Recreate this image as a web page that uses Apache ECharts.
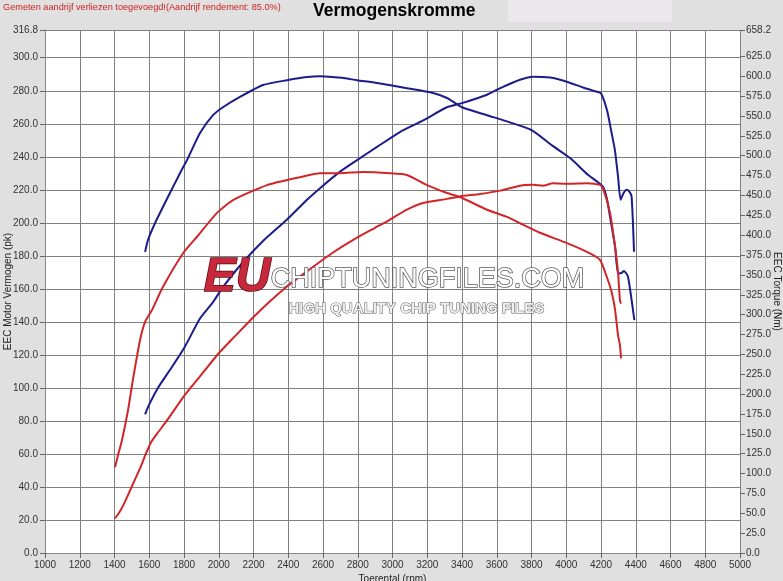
<!DOCTYPE html>
<html>
<head>
<meta charset="utf-8">
<script src="https://cdn.jsdelivr.net/npm/echarts@6/dist/echarts.min.js"></script>
<style>
html,body{margin:0;padding:0;background:#e0e0e0;}
#chart{width:783px;height:581px;}
</style>
</head>
<body>
<div id="chart"></div>
<script>
// ---- data ----
// Tuned power (pk, left axis) - blue
var bluePowerRpm = [1576,1600,1650,1720,1800,1892,1967,2024,2122,2255,2393,2508,2583,2698,2796,2911,3043,3176,3313,3400,3544,3636,3734,3809,3906,4004,4096,4177,4200,4235,4260,4280,4298,4313,4330,4347,4362,4376,4390];
var bluePower    = [84,90,100,111,124,142,152,161,174,189,202,214,221,231,238,246,255,262,270,272.5,277.6,282.4,286.7,288.5,288,285.5,282,279.4,278.5,268,255,244,228,214,218,220,219,216,182.5];
// Tuned torque (Nm, right axis) - blue
var blueTorqueRpm = [1576,1593,1633,1719,1777,1823,1892,1967,2024,2122,2255,2393,2508,2583,2709,2796,2911,3083,3233,3314,3400,3544,3676,3803,3918,4022,4125,4211,4235,4252,4281,4298,4315,4332,4355,4384,4392];
var blueTorque    = [379,394,415,453,478,497,528.6,551,561,574,589,595,599,600,598,595,591.5,585,579,572.6,561,551,542,532,513,497,476,461,445,423,385.5,352,352,355,348,306,293];
// Stock power (pk, left axis) - red
var redPowerRpm = [1403,1430,1460,1490,1520,1550,1580,1610,1650,1700,1800,1900,2000,2100,2200,2300,2400,2500,2658,2796,2900,2986,3083,3176,3314,3388,3504,3619,3734,3809,3866,3924,4004,4119,4194,4211,4252,4281,4298,4309,4315];
var redPower    = [21,25,31,38,45,52,60,67,73,80,95,108,121,132,143,153,162,170,182,191,197,202,208,212,214.5,216,217.5,219.5,222.5,223,222.5,224,223.6,224,223,221,206,185.5,170,153,151];
// Stock torque (Nm, right axis) - red
var redTorqueRpm = [1403,1420,1443,1478,1506,1547,1576,1616,1679,1794,1875,1990,2082,2278,2468,2583,2698,2830,2986,3083,3199,3314,3388,3544,3659,3734,3849,4004,4119,4194,4234,4263,4281,4298,4309,4315];
var redTorque    = [108,123,142,180,218,268,291,306,335,377,398,428,444,463,473,478,478,479.5,478,475.7,463,453,448,432,423,415,403,390,379,369,347,327,306,274,262,245];
// axis tick labels
var rightTickValues = [0,25,50,75,100,125,150,175,200,225,250,275,300,325,350,375,400,425,450,475,500,525,550,575,600,625,658.2];
var leftMax = 316.8, rightMax = 658.2;

function pairs(xs, ys){ return xs.map(function(x,i){ return [x, ys[i]]; }); }

var chart = echarts.init(document.getElementById('chart'), null, {renderer:'canvas'});
var FONT = 'Liberation Sans, Arial, sans-serif';
var blue = '#1c1c8a', red = '#d0262a';

var option = {
  backgroundColor: '#e0e0e0',
  animation: false,
  textStyle: {fontFamily: FONT},
  graphic: [
    {type:'rect', left:508, top:0, shape:{width:164,height:22}, style:{fill:'#ebe8eb'}, z:0},
    {type:'text', left:3, top:3, style:{text:'Gemeten aandrijf verliezen toegevoegd!(Aandrijf rendement: 85.0%)', fill:'#d02020', font:'9.2px '+FONT}},
    {type:'text', left:313, top:2, style:{text:'Vermogenskromme', fill:'#000', font:'bold 17.5px '+FONT}},
    {type:'text', left:203, top:253, z:100, style:{text:'EU', fill:'#c8283c', stroke:'#5a0c16', lineWidth:1.5, font:'italic bold 48px '+FONT, shadowBlur:4, shadowColor:'rgba(0,0,0,0.5)'}},
    {type:'text', left:270, top:265, z:100, style:{text:'CHIPTUNINGFILES.COM', fill:'#ffffff', stroke:'#5a5a5a', lineWidth:1.5, font:'27px '+FONT, shadowBlur:4, shadowColor:'rgba(0,0,0,0.5)'}},
    {type:'text', left:288, top:301, z:100, style:{text:'HIGH QUALITY CHIP TUNING FILES', fill:'#f0f0f0', stroke:'#5a5a5a', lineWidth:1, font:'bold 15px '+FONT, shadowBlur:3, shadowColor:'rgba(0,0,0,0.5)'}}
  ],
  grid: {left:45, right:43, top:30, bottom:28, show:true, backgroundColor:'#ffffff', borderWidth:0, containLabel:false, outerBoundsMode:'none'},
  xAxis: {
    type:'value', min:1000, max:5000, interval:200,
    name:'Toerental (rpm)', nameLocation:'middle', nameGap:21, nameMoveOverlap:false,
    nameTextStyle:{color:'#222', fontSize:10, fontFamily:FONT},
    axisLine:{show:true, lineStyle:{color:'#888', width:1}},
    axisTick:{show:true, length:5, lineStyle:{color:'#666'}},
    axisLabel:{color:'#333', fontSize:10, fontFamily:FONT, margin:7, formatter:function(v){return String(v);}},
    splitLine:{show:true, lineStyle:{color:'#808080', width:1}}
  },
  yAxis: [
    {
      type:'value', min:0, max:leftMax, interval:20, position:'left',
      name:'EEC Motor Vermogen (pk)', nameLocation:'middle', nameGap:32, nameRotate:90, nameMoveOverlap:false,
      nameTextStyle:{color:'#222', fontSize:10, fontFamily:FONT},
      axisLine:{show:true, lineStyle:{color:'#888'}},
      axisTick:{show:true, length:5, lineStyle:{color:'#666'}},
      axisLabel:{color:'#333', fontSize:10, fontFamily:FONT, margin:7, formatter:function(v){return v.toFixed(1);}},
      splitLine:{show:true, lineStyle:{color:'#808080', width:1}}
    },
    {
      type:'value', min:0, max:rightMax, position:'right',
      name:'EEC Torque (Nm)', nameLocation:'middle', nameGap:32, nameRotate:-90, nameMoveOverlap:false,
      nameTextStyle:{color:'#222', fontSize:10, fontFamily:FONT},
      axisLine:{show:false},
      axisTick:{show:true, length:5, customValues:rightTickValues, lineStyle:{color:'#666'}},
      axisLabel:{color:'#333', fontSize:10, fontFamily:FONT, margin:6, customValues:rightTickValues, formatter:function(v){return v.toFixed(1);}},
      splitLine:{show:false}
    }
  ],
  series: [
    {type:'line', yAxisIndex:1, data:pairs(blueTorqueRpm, blueTorque), showSymbol:false, smooth:0.2, lineStyle:{color:blue, width:2}, itemStyle:{color:blue}, z:3},
    {type:'line', yAxisIndex:0, data:pairs(bluePowerRpm, bluePower), showSymbol:false, smooth:0.2, lineStyle:{color:blue, width:2}, itemStyle:{color:blue}, z:3},
    {type:'line', yAxisIndex:1, data:pairs(redTorqueRpm, redTorque), showSymbol:false, smooth:0.2, lineStyle:{color:red, width:2}, itemStyle:{color:red}, z:3},
    {type:'line', yAxisIndex:0, data:pairs(redPowerRpm, redPower), showSymbol:false, smooth:0.2, lineStyle:{color:red, width:2}, itemStyle:{color:red}, z:3}
  ]
};
chart.setOption(option);
</script>
</body>
</html>
